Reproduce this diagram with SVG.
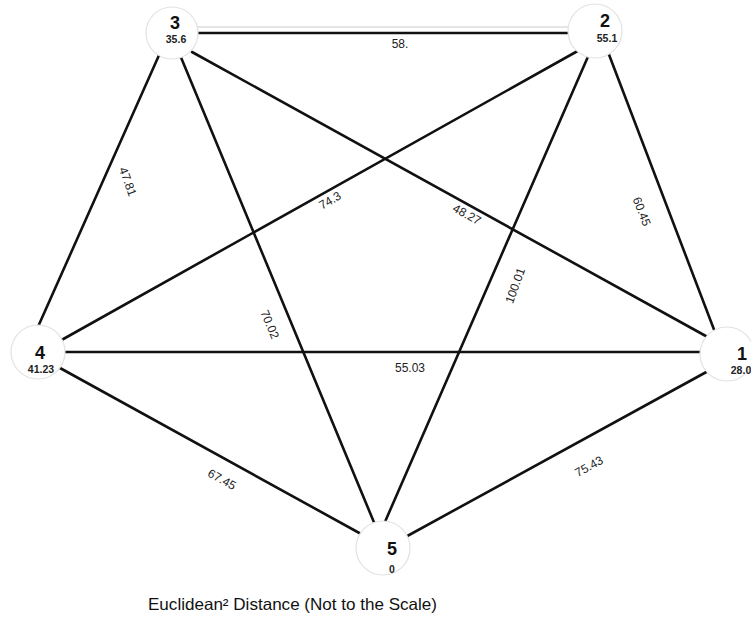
<svg xmlns="http://www.w3.org/2000/svg" width="751" height="620" viewBox="0 0 751 620">
<style>
.node circle{fill:#fff;stroke:#e2e2e2;stroke-width:1.2}
.num{font-family:"Liberation Sans",Arial,sans-serif;font-weight:bold;font-size:18px;fill:#111;text-anchor:middle}
.val{font-family:"Liberation Sans",Arial,sans-serif;font-weight:bold;font-size:10.5px;fill:#222;text-anchor:middle}
.edges line{stroke:#111;stroke-width:2.6;stroke-linecap:round}
.lbl{font-family:"Liberation Sans",Arial,sans-serif;font-size:12px;fill:#222;text-anchor:middle}
.cap{font-family:"Liberation Sans",Arial,sans-serif;font-size:16.5px;fill:#111}
</style>
<rect width="751" height="620" fill="#fff"/>
<g id="connectors" class="edges">
  <line x1="197" y1="27" x2="568" y2="27" style="stroke:#ccc;stroke-width:1"/>
  <line x1="197" y1="33" x2="568" y2="33"/>
  <line x1="160" y1="53" x2="33" y2="338"/>
  <line x1="180" y1="55" x2="378" y2="532"/>
  <line x1="192" y1="52" x2="713" y2="340"/>
  <line x1="583" y1="48" x2="58" y2="342"/>
  <line x1="590" y1="52" x2="381" y2="531"/>
  <line x1="608" y1="52" x2="718" y2="340"/>
  <line x1="65" y1="352" x2="700" y2="352"/>
  <line x1="60" y1="368" x2="372" y2="540"/>
  <line x1="710" y1="370" x2="400" y2="540"/>
</g>
<g id="edge-labels">
  <text class="lbl" x="400" y="48">58.</text>
  <text class="lbl" transform="translate(124,183) rotate(70)">47.81</text>
  <text class="lbl" transform="translate(332,204) rotate(-30)">74.3</text>
  <text class="lbl" transform="translate(465,218) rotate(29)">48.27</text>
  <text class="lbl" transform="translate(638,213) rotate(69)">60.45</text>
  <text class="lbl" transform="translate(266,326) rotate(67)">70.02</text>
  <text class="lbl" transform="translate(519,287) rotate(-70)">100.01</text>
  <text class="lbl" x="410" y="372">55.03</text>
  <text class="lbl" transform="translate(220,483) rotate(29)">67.45</text>
  <text class="lbl" transform="translate(591,470) rotate(-29)">75.43</text>
</g>
<g id="node-3" class="node"><circle cx="172" cy="33" r="26"/><text class="num" x="175" y="29">3</text><text class="val" x="176" y="43">35.6</text></g>
<g id="node-2" class="node"><circle cx="595" cy="31" r="27"/><text class="num" x="605" y="27">2</text><text class="val" x="607" y="42">55.1</text></g>
<g id="node-4" class="node"><circle cx="38" cy="352" r="27"/><text class="num" x="40" y="359">4</text><text class="val" x="41" y="373">41.23</text></g>
<g id="node-1" class="node"><circle cx="727" cy="354" r="27"/><text class="num" x="742" y="360">1</text><text class="val" x="741" y="374">28.0</text></g>
<g id="node-5" class="node"><circle cx="383" cy="548" r="27"/><text class="num" x="392" y="555">5</text><text class="val" x="392" y="573">0</text></g>
<text class="cap" x="148" y="610" textLength="289" lengthAdjust="spacingAndGlyphs">Euclidean² Distance (Not to the Scale)</text>
</svg>
